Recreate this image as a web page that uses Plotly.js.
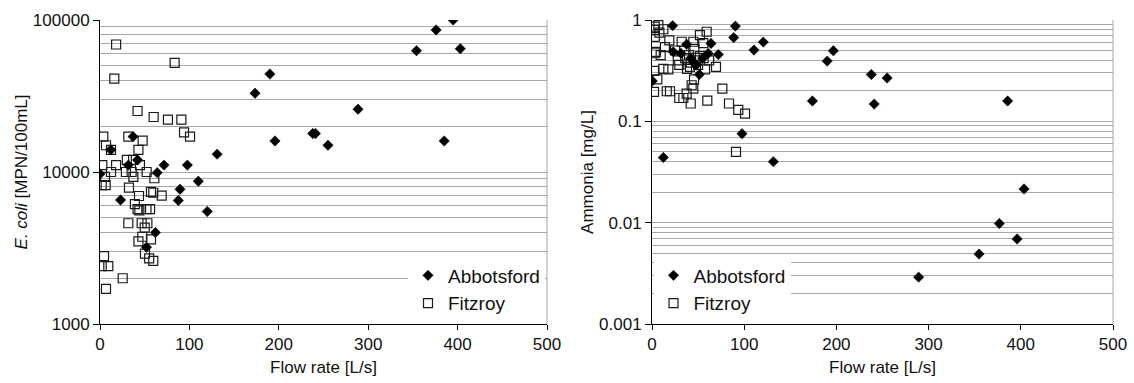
<!DOCTYPE html>
<html>
<head>
<meta charset="utf-8">
<script src="https://cdn.plot.ly/plotly-3.0.1.min.js"></script>
<style>
html,body{margin:0;padding:0;background:#fff;}
#chart{width:1134px;height:383px;}
</style>
</head>
<body>
<div id="chart"></div>
<script>
// ---- Left panel: E. coli vs flow rate ----
const ecoliAbbotsfordFlow = [0, 12, 23, 31.7, 37, 42, 52, 62, 64, 71.6, 87.6, 89.5, 97.7, 110, 120, 131, 173.4, 190, 195.7, 238, 241, 255, 288.6, 354, 376, 385, 395, 403];
const ecoliAbbotsford     = [9700, 14000, 6550, 11100, 17100, 12000, 3200, 4000, 9900, 11100, 6500, 7700, 11100, 8700, 5500, 13100, 33000, 44100, 16000, 17900, 17900, 15000, 25900, 62800, 86000, 16000, 100000, 64700];

const ecoliFitzroyFlow = [18, 83.5, 16, 42, 60, 76, 91, 3.7, 31.7, 47.7, 94, 100.7, 6.7, 12.3, 43, 30, 37, 2.6, 18, 44.7, 12.3, 29, 35.4, 52.2, 5.6, 37.3, 60.8, 1.9, 6.3, 32.4, 57, 59.6, 69, 43.6, 39, 42, 44, 52, 56, 31.7, 46.6, 53, 50, 47.3, 57, 43, 50.3, 55, 59.6, 4.5, 1.9, 9.3, 25.4, 6.7];
const ecoliFitzroy     = [69000, 52300, 41100, 25200, 23000, 22100, 22100, 17100, 17100, 16100, 18200, 17100, 15000, 14000, 14000, 12000, 12000, 11100, 11100, 11100, 10000, 10000, 10000, 10000, 9300, 9300, 9100, 8200, 8200, 7900, 7400, 7300, 7000, 6950, 6150, 5700, 5600, 5700, 5700, 4600, 4600, 4600, 4300, 3750, 3600, 3500, 2900, 2700, 2600, 2800, 2400, 2400, 2000, 1700];

// ---- Right panel: Ammonia vs flow rate ----
const nh3AbbotsfordFlow = [0.3, 12.3, 22.4, 23, 31.5, 37.6, 42, 45, 48, 51.3, 55, 61, 64, 72, 88.6, 90.4, 97.6, 110.6, 120.7, 131.6, 174, 190, 196.7, 237.9, 241, 255, 289.2, 354.7, 376.7, 385.7, 396, 403.5];
const nh3Abbotsford     = [0.25, 0.044, 0.88, 0.485, 0.468, 0.575, 0.42, 0.38, 0.36, 0.29, 0.42, 0.468, 0.587, 0.457, 0.67, 0.87, 0.0755, 0.505, 0.605, 0.040, 0.159, 0.393, 0.497, 0.29, 0.148, 0.268, 0.0029, 0.0049, 0.0098, 0.159, 0.0069, 0.0215];

const nh3FitzroyFlow = [6.9, 3, 3, 12.3, 8, 3, 59.3, 52, 18.8, 32.2, 44.8, 55.6, 14, 25, 4.3, 9.4, 3, 29.6, 41.2, 57.5, 69.4, 2.2, 12.3, 17.7, 5.8, 45.6, 43, 44.8, 76.3, 2.2, 16, 19.5, 37.6, 29.6, 34, 42, 60, 83.5, 93.6, 100.9, 91.1, 28, 36, 42, 48, 52, 40, 56, 62, 35, 46, 50, 38];
const nh3Fitzroy     = [0.89, 0.86, 0.80, 0.81, 0.75, 0.68, 0.766, 0.71, 0.63, 0.61, 0.61, 0.59, 0.54, 0.50, 0.485, 0.45, 0.47, 0.36, 0.345, 0.325, 0.345, 0.315, 0.33, 0.325, 0.26, 0.26, 0.227, 0.21, 0.21, 0.195, 0.198, 0.198, 0.188, 0.17, 0.17, 0.15, 0.16, 0.15, 0.13, 0.119, 0.050, 0.40, 0.42, 0.38, 0.40, 0.44, 0.45, 0.42, 0.40, 0.50, 0.52, 0.36, 0.33];

const seriesNames = ['Abbotsford', 'Fitzroy'];
const xTickVals = [0, 100, 200, 300, 400, 500];
const leftTickVals = [1000, 10000, 100000];
const leftTickText = ['1000', '10000', '100000'];
const rightTickVals = [0.001, 0.01, 0.1, 1];
const rightTickText = ['0.001', '0.01', '0.1', '1'];

const FONT = 'Liberation Sans, Arial, sans-serif';
const diamond = {symbol: 'diamond', size: 8, color: '#000', line: {width: 0.5, color: '#000'}};
const square = {symbol: 'square-open', size: 9, color: '#1a1a1a', line: {width: 1.2, color: '#1a1a1a'}};

const traces = [
  {x: ecoliFitzroyFlow, y: ecoliFitzroy, type: 'scatter', mode: 'markers', name: seriesNames[1], marker: square, xaxis: 'x', yaxis: 'y', legend: 'legend', legendrank: 2},
  {x: ecoliAbbotsfordFlow, y: ecoliAbbotsford, type: 'scatter', mode: 'markers', name: seriesNames[0], marker: diamond, xaxis: 'x', yaxis: 'y', legend: 'legend', legendrank: 1},
  {x: nh3FitzroyFlow, y: nh3Fitzroy, type: 'scatter', mode: 'markers', name: seriesNames[1], marker: square, xaxis: 'x2', yaxis: 'y2', legend: 'legend2', legendrank: 2},
  {x: nh3AbbotsfordFlow, y: nh3Abbotsford, type: 'scatter', mode: 'markers', name: seriesNames[0], marker: diamond, xaxis: 'x2', yaxis: 'y2', legend: 'legend2', legendrank: 1}
];

const W = 1134, H = 383;
const yDom = [1 - 324 / H, 1 - 20 / H];
const x1Dom = [100 / W, 547 / W];
const x2Dom = [652 / W, 1113 / W];

const gridC = '#a8a8a8';
function xAxis(dom, anchor) {
  return {
    domain: dom, anchor: anchor, range: [0, 500], tickvals: xTickVals,
    showgrid: false, zeroline: false, showline: true, linecolor: '#000', linewidth: 1,
    ticks: 'outside', ticklen: 5, tickcolor: '#000',
    tickfont: {family: FONT, size: 17, color: '#111'},
    title: {text: 'Flow rate [L/s]', font: {family: FONT, size: 17, color: '#111'}, standoff: 7},
    automargin: false, fixedrange: true
  };
}
function yAxis(range, tv, tt, title, anchor, standoff) {
  return {
    domain: yDom, anchor: anchor, type: 'log', range: range,
    tickvals: tv, ticktext: tt,
    showgrid: true, gridcolor: gridC, gridwidth: 1,
    minor: {dtick: 'D1', showgrid: true, gridcolor: gridC, gridwidth: 1, ticks: ''},
    zeroline: false, showline: true, linecolor: '#000', linewidth: 1,
    ticks: 'outside', ticklen: 6, tickcolor: '#000',
    tickfont: {family: FONT, size: 17, color: '#111'},
    title: {text: title, font: {family: FONT, size: 17, color: '#111'}, standoff: standoff},
    automargin: false, fixedrange: true
  };
}

const layout = {
  width: W, height: H,
  margin: {l: 0, r: 0, t: 0, b: 0},
  paper_bgcolor: '#fff', plot_bgcolor: '#fff',
  font: {family: FONT, color: '#111'},
  xaxis: xAxis(x1Dom, 'y'),
  yaxis: yAxis([3, 5], leftTickVals, leftTickText, '<i>E. coli</i> [MPN/100mL]', 'x', 0),
  xaxis2: xAxis(x2Dom, 'y2'),
  yaxis2: yAxis([-3, 0], rightTickVals, rightTickText, 'Ammonia [mg/L]', 'x2', 1),
  legend: {
    x: x1Dom[1] - 2 / W, y: yDom[0] + 1.5 / H, xanchor: 'right', yanchor: 'bottom',
    bgcolor: '#fff', borderwidth: 0, font: {family: FONT, size: 19, color: '#111'},
    traceorder: 'normal', itemwidth: 30, tracegroupgap: 0
  },
  legend2: {
    x: x2Dom[0] + 1.5 / W, y: yDom[0] + 1.5 / H, xanchor: 'left', yanchor: 'bottom',
    bgcolor: '#fff', borderwidth: 0, font: {family: FONT, size: 19, color: '#111'},
    traceorder: 'normal', itemwidth: 30, tracegroupgap: 0
  },
  shapes: [
    {type: 'line', xref: 'x domain', yref: 'y domain', x0: 1, x1: 1, y0: 0, y1: 1, line: {color: gridC, width: 1}},
    {type: 'line', xref: 'x2 domain', yref: 'y2 domain', x0: 1, x1: 1, y0: 0, y1: 1, line: {color: gridC, width: 1}}
  ],
  showlegend: true
};

Plotly.newPlot('chart', traces, layout, {staticPlot: true, displayModeBar: false});
</script>
</body>
</html>
